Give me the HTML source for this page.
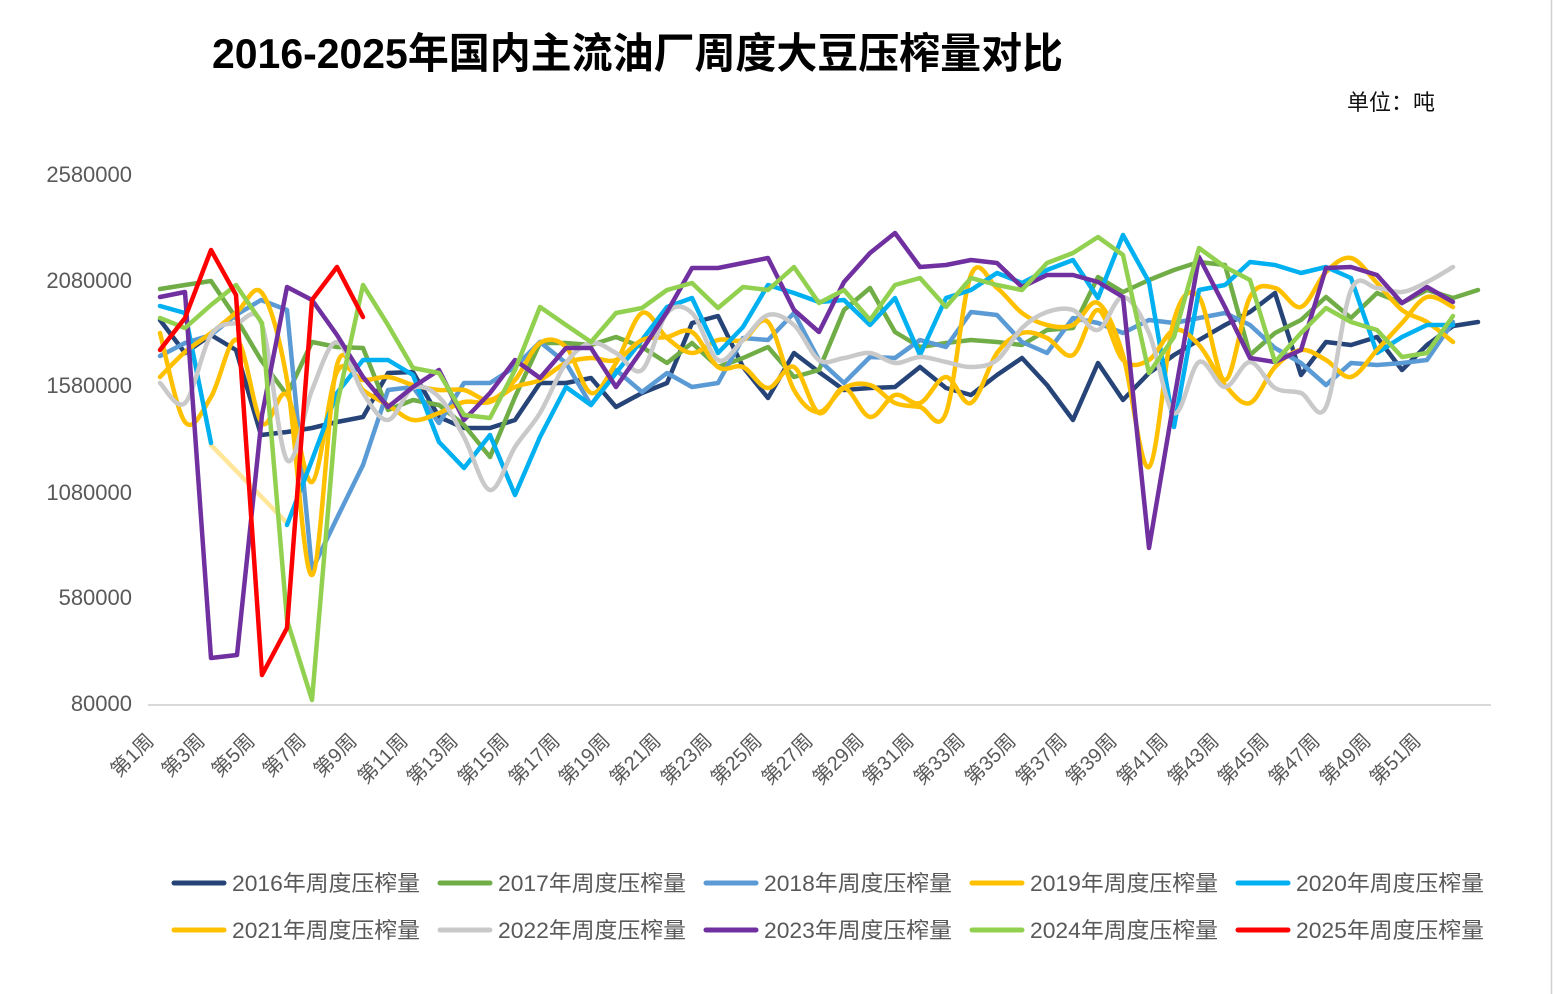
<!DOCTYPE html>
<html><head><meta charset="utf-8"><style>
html,body{margin:0;padding:0;background:#fff;}
svg{display:block;}
text{font-family:"Liberation Sans","Noto Sans CJK SC",sans-serif;}
</style></head><body>
<svg id="chart" width="1553" height="994" viewBox="0 0 1553 994" xmlns="http://www.w3.org/2000/svg">
<rect width="1553" height="994" fill="#fff"/>
<line x1="1551.5" y1="0" x2="1551.5" y2="994" stroke="#D0D0D0" stroke-width="1.5"/>
<text x="212" y="68" font-size="42" font-weight="bold" fill="#000" textLength="851" lengthAdjust="spacingAndGlyphs">2016-2025年国内主流油厂周度大豆压榨量对比</text>
<text x="1347" y="110" font-size="22" fill="#111">单位：吨</text>
<g font-size="22" fill="#595959" text-anchor="end">
<text x="132" y="182">2580000</text>
<text x="132" y="288">2080000</text>
<text x="132" y="393">1580000</text>
<text x="132" y="500">1080000</text>
<text x="132" y="605">580000</text>
<text x="132" y="711">80000</text>
</g>
<line x1="148" y1="705" x2="1491" y2="705" stroke="#D9D9D9" stroke-width="2"/>
<g font-size="20" fill="#595959" text-anchor="end">
<text transform="translate(155,742) rotate(-45)">第1周</text>
<text transform="translate(206,742) rotate(-45)">第3周</text>
<text transform="translate(256,742) rotate(-45)">第5周</text>
<text transform="translate(307,742) rotate(-45)">第7周</text>
<text transform="translate(358,742) rotate(-45)">第9周</text>
<text transform="translate(409,742) rotate(-45)">第11周</text>
<text transform="translate(459,742) rotate(-45)">第13周</text>
<text transform="translate(510,742) rotate(-45)">第15周</text>
<text transform="translate(561,742) rotate(-45)">第17周</text>
<text transform="translate(611,742) rotate(-45)">第19周</text>
<text transform="translate(662,742) rotate(-45)">第21周</text>
<text transform="translate(713,742) rotate(-45)">第23周</text>
<text transform="translate(763,742) rotate(-45)">第25周</text>
<text transform="translate(814,742) rotate(-45)">第27周</text>
<text transform="translate(865,742) rotate(-45)">第29周</text>
<text transform="translate(915,742) rotate(-45)">第31周</text>
<text transform="translate(966,742) rotate(-45)">第33周</text>
<text transform="translate(1017,742) rotate(-45)">第35周</text>
<text transform="translate(1068,742) rotate(-45)">第37周</text>
<text transform="translate(1118,742) rotate(-45)">第39周</text>
<text transform="translate(1169,742) rotate(-45)">第41周</text>
<text transform="translate(1220,742) rotate(-45)">第43周</text>
<text transform="translate(1270,742) rotate(-45)">第45周</text>
<text transform="translate(1321,742) rotate(-45)">第47周</text>
<text transform="translate(1372,742) rotate(-45)">第49周</text>
<text transform="translate(1422,742) rotate(-45)">第51周</text>
</g>
<g fill="none" stroke-width="4.5" stroke-linejoin="round" stroke-linecap="round">
<polyline stroke="#FFE699" points="211,445 287,523"/>
<polyline stroke="#264478" points="160,320 185,353 211,335 236,350 261,435 287,432 312,428 337,422 363,417 388,373 413,372 439,417 464,428 490,428 515,420 540,383 566,383 591,378 616,407 642,393 667,383 692,323 718,316 743,367 768,398 794,353 819,372 844,390 870,388 895,387 920,367 946,388 971,395 997,375 1022,358 1047,385 1073,420 1098,363 1123,400 1149,373 1174,355 1199,340 1225,325 1250,312 1275,293 1301,375 1326,342 1351,345 1377,337 1402,370 1427,345 1453,326 1478,322"/>
<polyline stroke="#70AD47" points="160,289 185,285 211,281 236,318 261,360 287,395 312,342 337,347 363,348 388,410 413,400 439,405 464,425 490,457 515,397 540,343 566,343 591,345 616,337 642,347 667,363 692,343 718,367 743,358 768,347 794,377 819,370 844,310 870,288 895,332 920,347 946,343 971,340 997,342 1022,345 1047,330 1073,328 1098,277 1123,292 1149,280 1174,270 1199,262 1225,265 1250,355 1275,333 1301,320 1326,297 1351,318 1377,293 1402,303 1427,290 1453,298 1478,290"/>
<polyline stroke="#5B9BD5" points="160,356 185,343 211,335 236,315 261,300 287,310 312,570 337,518 363,465 388,390 413,387 439,423 464,383 490,383 515,367 540,342 566,363 591,405 616,370 642,392 667,373 692,387 718,383 743,338 768,340 794,313 819,360 844,383 870,357 895,358 920,340 946,347 971,312 997,315 1022,342 1047,353 1073,318 1098,323 1123,333 1149,320 1174,323 1199,318 1225,313 1250,325 1275,348 1301,363 1326,385 1351,363 1377,365 1402,363 1427,360 1453,322"/>
<polyline class="smooth" stroke="#FFC000" points="160,333 185,422 211,397 237,340 262,423 287,395 312,482 337,372 363,380 388,377 413,385 439,390 464,390 490,400 515,380 540,343 566,347 591,393 616,363 642,313 667,338 692,353 718,340 743,340 768,322 794,390 819,412 844,388 870,385 895,403 920,407 946,413 971,275 997,288 1022,313 1047,325 1073,325 1098,303 1123,355 1149,467 1174,320 1199,297 1225,380 1250,297 1275,288 1301,307 1326,272 1351,258 1377,283 1402,310 1427,322 1453,342"/>
<polyline stroke="#00B0F0" points="160,306 185,313 211,443"/>
<polyline stroke="#00B0F0" points="287,525 312,460 337,393 363,360 388,360 413,375 439,442 464,468 490,435 515,495 540,437 566,387 591,405 616,373 642,340 667,307 692,298 718,353 743,327 768,285 794,293 819,302 844,300 870,325 895,298 920,355 946,298 971,290 997,273 1022,283 1047,270 1073,260 1098,298 1123,235 1149,282 1174,427 1199,290 1225,285 1250,262 1275,265 1301,273 1326,267 1351,278 1377,353 1402,337 1427,325 1453,325"/>
<polyline class="smooth" stroke="#FFC000" points="160,377 185,352 211,333 237,312 262,293 287,380 312,575 337,365 363,390 388,405 413,420 439,413 464,402 490,402 515,387 540,380 566,363 591,358 616,360 642,340 667,337 692,332 718,367 743,367 768,388 794,367 819,413 844,388 870,417 895,395 920,403 946,377 971,403 997,353 1022,333 1047,338 1073,355 1098,310 1123,360 1149,360 1174,330 1199,345 1225,385 1250,403 1275,367 1301,350 1326,360 1351,377 1377,350 1402,323 1427,297 1453,307"/>
<polyline class="smooth" stroke="#C9C9C9" points="160,383 185,403 211,335 237,323 262,325 287,460 312,390 337,342 363,393 388,420 413,388 439,397 464,437 490,490 515,447 540,413 566,363 591,343 616,353 642,370 667,313 692,313 718,360 743,340 768,315 794,325 819,360 844,358 870,353 895,363 920,357 946,362 971,367 997,360 1022,328 1047,312 1073,310 1098,330 1123,297 1149,333 1174,413 1199,362 1225,387 1250,362 1275,388 1301,393 1326,407 1351,290 1377,288 1402,292 1427,282 1453,267"/>
<polyline stroke="#7030A0" points="160,297 185,292 211,658 237,655 262,415 287,287 312,300 337,335 363,377 388,407 413,387 439,370 464,420 490,393 515,360 540,378 566,348 591,348 616,387 642,350 667,312 692,268 718,268 743,263 768,258 794,310 819,332 844,282 870,253 895,233 920,267 946,265 971,260 997,263 1022,287 1047,275 1073,275 1098,282 1123,297 1149,548 1174,400 1199,257 1225,307 1250,358 1275,362 1301,350 1326,268 1351,267 1377,275 1402,303 1427,287 1453,302"/>
<polyline stroke="#92D050" points="160,318 185,328 211,305 236,285 262,323 287,620 312,700 337,405 363,285 388,325 413,368 439,373 464,415 490,418 515,370 540,307 566,325 591,342 616,313 642,308 667,290 692,283 718,308 743,287 768,290 794,267 819,303 844,290 870,320 895,285 920,278 946,307 971,278 997,285 1022,290 1047,263 1073,253 1098,237 1123,255 1149,373 1174,337 1199,248 1225,267 1250,280 1275,362 1301,333 1326,308 1351,322 1377,330 1402,357 1427,353 1453,316"/>
<polyline stroke="#FF0000" points="160,350 185,318 211,250 236,295 262,675 287,628 312,300 337,267 363,317"/>
</g>
<g stroke-width="5" stroke-linecap="round">
<line x1="174" y1="883" x2="224" y2="883" stroke="#264478"/>
<line x1="440" y1="883" x2="490" y2="883" stroke="#70AD47"/>
<line x1="706" y1="883" x2="756" y2="883" stroke="#5B9BD5"/>
<line x1="972" y1="883" x2="1022" y2="883" stroke="#FFC000"/>
<line x1="1238" y1="883" x2="1288" y2="883" stroke="#00B0F0"/>
<line x1="174" y1="930" x2="224" y2="930" stroke="#FFC000"/>
<line x1="440" y1="930" x2="490" y2="930" stroke="#C9C9C9"/>
<line x1="706" y1="930" x2="756" y2="930" stroke="#7030A0"/>
<line x1="972" y1="930" x2="1022" y2="930" stroke="#92D050"/>
<line x1="1238" y1="930" x2="1288" y2="930" stroke="#FF0000"/>
</g>
<g font-size="22" fill="#595959">
<text x="232" y="891" textLength="188" lengthAdjust="spacingAndGlyphs">2016年周度压榨量</text>
<text x="498" y="891" textLength="188" lengthAdjust="spacingAndGlyphs">2017年周度压榨量</text>
<text x="764" y="891" textLength="188" lengthAdjust="spacingAndGlyphs">2018年周度压榨量</text>
<text x="1030" y="891" textLength="188" lengthAdjust="spacingAndGlyphs">2019年周度压榨量</text>
<text x="1296" y="891" textLength="188" lengthAdjust="spacingAndGlyphs">2020年周度压榨量</text>
<text x="232" y="938" textLength="188" lengthAdjust="spacingAndGlyphs">2021年周度压榨量</text>
<text x="498" y="938" textLength="188" lengthAdjust="spacingAndGlyphs">2022年周度压榨量</text>
<text x="764" y="938" textLength="188" lengthAdjust="spacingAndGlyphs">2023年周度压榨量</text>
<text x="1030" y="938" textLength="188" lengthAdjust="spacingAndGlyphs">2024年周度压榨量</text>
<text x="1296" y="938" textLength="188" lengthAdjust="spacingAndGlyphs">2025年周度压榨量</text>
</g>
</svg>
<script>
(function(){
  var ns="http://www.w3.org/2000/svg";
  var pls=document.querySelectorAll("polyline.smooth");
  for(var k=0;k<pls.length;k++){
    var pl=pls[k];
    var pts=pl.getAttribute("points").trim().split(/\s+/).map(function(s){var a=s.split(",");return [parseFloat(a[0]),parseFloat(a[1])];});
    var d="M"+pts[0][0]+","+pts[0][1];
    for(var i=0;i<pts.length-1;i++){
      var p0=pts[i>0?i-1:i],p1=pts[i],p2=pts[i+1],p3=pts[i+2<pts.length?i+2:i+1];
      var c1x=p1[0]+(p2[0]-p0[0])/6,c1y=p1[1]+(p2[1]-p0[1])/6;
      var c2x=p2[0]-(p3[0]-p1[0])/6,c2y=p2[1]-(p3[1]-p1[1])/6;
      d+=" C"+c1x.toFixed(1)+","+c1y.toFixed(1)+" "+c2x.toFixed(1)+","+c2y.toFixed(1)+" "+p2[0]+","+p2[1];
    }
    var path=document.createElementNS(ns,"path");
    path.setAttribute("d",d);
    path.setAttribute("stroke",pl.getAttribute("stroke"));
    pl.parentNode.replaceChild(path,pl);
  }
})();
</script>
</body></html>
